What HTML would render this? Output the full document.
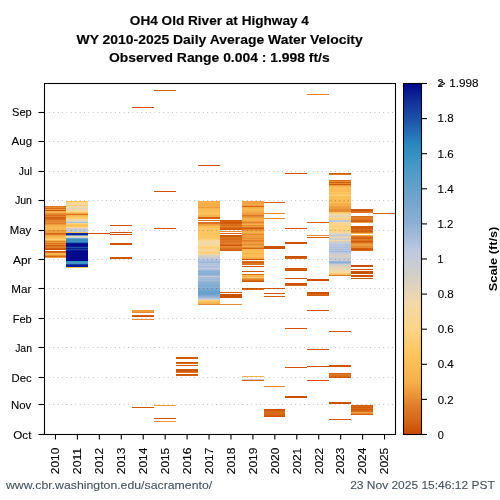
<!DOCTYPE html><html><head><meta charset="utf-8"><style>html,body{margin:0;padding:0;background:#fff;overflow:hidden}svg{display:block}text{font-family:"Liberation Sans",sans-serif}</style></head><body>
<svg width="500" height="500" viewBox="0 0 500 500">
<defs><linearGradient id="cb" x1="0" y1="1" x2="0" y2="0">
<stop offset="0.0000" stop-color="#c84a02"/>
<stop offset="0.0400" stop-color="#d66618"/>
<stop offset="0.0800" stop-color="#e07c28"/>
<stop offset="0.1500" stop-color="#f6b04a"/>
<stop offset="0.2250" stop-color="#fdc45c"/>
<stop offset="0.3000" stop-color="#fdd488"/>
<stop offset="0.3750" stop-color="#f2d9aa"/>
<stop offset="0.4500" stop-color="#d4cfc6"/>
<stop offset="0.5250" stop-color="#bcc8e0"/>
<stop offset="0.6000" stop-color="#8cb0d4"/>
<stop offset="0.6750" stop-color="#70a4cc"/>
<stop offset="0.7500" stop-color="#4e9ac8"/>
<stop offset="0.8250" stop-color="#2a8abe"/>
<stop offset="0.9000" stop-color="#1e50a8"/>
<stop offset="0.9500" stop-color="#10309a"/>
<stop offset="1.0000" stop-color="#00088c"/>
</linearGradient></defs>
<rect width="500" height="500" fill="#fff"/>
<g opacity="0.999">
<g font-weight="bold" fill="#000">
<text x="129.85" y="25.2" font-size="12.8" stroke="#000" stroke-width="0.15" textLength="179.01" lengthAdjust="spacingAndGlyphs">OH4 Old River at Highway 4</text>
<text x="76.55" y="43.8" font-size="12.8" stroke="#000" stroke-width="0.15" textLength="286.16" lengthAdjust="spacingAndGlyphs">WY 2010-2025 Daily Average Water Velocity</text>
<text x="108.97" y="62.2" font-size="12.8" stroke="#000" stroke-width="0.15" textLength="220.66" lengthAdjust="spacingAndGlyphs">Observed Range 0.004 : 1.998 ft/s</text>
</g>
<g shape-rendering="crispEdges">
<rect x="44.5" y="206" width="21.5" height="1" fill="#de7724"/>
<rect x="44.5" y="207" width="21.5" height="1" fill="#e68b32"/>
<rect x="44.5" y="208" width="21.5" height="1" fill="#d66816"/>
<rect x="44.5" y="209" width="21.5" height="1" fill="#ee9d3e"/>
<rect x="44.5" y="210" width="21.5" height="1" fill="#cc5404"/>
<rect x="44.5" y="211" width="21.5" height="1" fill="#f3a945"/>
<rect x="44.5" y="212" width="21.5" height="1" fill="#f8b750"/>
<rect x="44.5" y="213" width="21.5" height="1" fill="#e68b32"/>
<rect x="44.5" y="214" width="21.5" height="1" fill="#e68b32"/>
<rect x="44.5" y="215" width="21.5" height="1" fill="#d66816"/>
<rect x="44.5" y="216" width="21.5" height="1" fill="#e3832d"/>
<rect x="44.5" y="217" width="21.5" height="1" fill="#d15e0d"/>
<rect x="44.5" y="218" width="21.5" height="1" fill="#d66816"/>
<rect x="44.5" y="219" width="21.5" height="1" fill="#d86d1a"/>
<rect x="44.5" y="220" width="21.5" height="1" fill="#e68b32"/>
<rect x="44.5" y="221" width="21.5" height="1" fill="#e3832d"/>
<rect x="44.5" y="222" width="21.5" height="1" fill="#e68b32"/>
<rect x="44.5" y="223" width="21.5" height="1" fill="#e2802a"/>
<rect x="44.5" y="224" width="21.5" height="1" fill="#ee9d3e"/>
<rect x="44.5" y="225" width="21.5" height="1" fill="#f6b04a"/>
<rect x="44.5" y="226" width="21.5" height="3" fill="#f9b952"/>
<rect x="44.5" y="229" width="21.5" height="1" fill="#f8b750"/>
<rect x="44.5" y="230" width="21.5" height="1" fill="#ee9d3e"/>
<rect x="44.5" y="231" width="21.5" height="1" fill="#ee9d3e"/>
<rect x="44.5" y="232" width="21.5" height="1" fill="#ee9d3e"/>
<rect x="44.5" y="233" width="21.5" height="1" fill="#d66816"/>
<rect x="44.5" y="234" width="21.5" height="1" fill="#de7724"/>
<rect x="44.5" y="235" width="21.5" height="1" fill="#f3a945"/>
<rect x="44.5" y="236" width="21.5" height="1" fill="#f7b44e"/>
<rect x="44.5" y="237" width="21.5" height="1" fill="#fbbd56"/>
<rect x="44.5" y="238" width="21.5" height="1" fill="#fcc058"/>
<rect x="44.5" y="239" width="21.5" height="1" fill="#fdcf79"/>
<rect x="44.5" y="240" width="21.5" height="1" fill="#f7b44e"/>
<rect x="44.5" y="241" width="21.5" height="1" fill="#e2802a"/>
<rect x="44.5" y="242" width="21.5" height="1" fill="#ee9d3e"/>
<rect x="44.5" y="243" width="21.5" height="1" fill="#d86d1a"/>
<rect x="44.5" y="244" width="21.5" height="1" fill="#e68b32"/>
<rect x="44.5" y="245" width="21.5" height="1" fill="#d15e0d"/>
<rect x="44.5" y="246" width="21.5" height="1" fill="#de7724"/>
<rect x="44.5" y="247" width="21.5" height="1" fill="#e2802a"/>
<rect x="44.5" y="248" width="21.5" height="1" fill="#d15e0d"/>
<rect x="44.5" y="249" width="21.5" height="1" fill="#cb5204"/>
<rect x="44.5" y="251" width="21.5" height="1" fill="#ce5908"/>
<rect x="44.5" y="252" width="21.5" height="1" fill="#db721f"/>
<rect x="44.5" y="253" width="21.5" height="1" fill="#f6b04a"/>
<rect x="44.5" y="254" width="21.5" height="1" fill="#fbbd56"/>
<rect x="44.5" y="255" width="21.5" height="1" fill="#e68b32"/>
<rect x="44.5" y="256" width="21.5" height="1" fill="#d66816"/>
<rect x="44.5" y="257" width="21.5" height="1" fill="#ee9d3e"/>
<rect x="66" y="201" width="22" height="1" fill="#fdc45c"/>
<rect x="66" y="202" width="22" height="1" fill="#fdd488"/>
<rect x="66" y="203" width="22" height="1" fill="#f6d79f"/>
<rect x="66" y="204" width="22" height="1" fill="#f4d8a3"/>
<rect x="66" y="205" width="22" height="1" fill="#fdcf79"/>
<rect x="66" y="206" width="22" height="1" fill="#ecd7b0"/>
<rect x="66" y="207" width="22" height="1" fill="#f2d9aa"/>
<rect x="66" y="208" width="22" height="1" fill="#e4d4b7"/>
<rect x="66" y="209" width="22" height="1" fill="#f2d9aa"/>
<rect x="66" y="210" width="22" height="1" fill="#f4d8a3"/>
<rect x="66" y="211" width="22" height="1" fill="#fdd488"/>
<rect x="66" y="212" width="22" height="1" fill="#fdc662"/>
<rect x="66" y="213" width="22" height="1" fill="#f3a945"/>
<rect x="66" y="214" width="22" height="1" fill="#d86d1a"/>
<rect x="66" y="215" width="22" height="1" fill="#f8b750"/>
<rect x="66" y="216" width="22" height="1" fill="#fcc058"/>
<rect x="66" y="217" width="22" height="1" fill="#fdc662"/>
<rect x="66" y="218" width="22" height="1" fill="#fdcf79"/>
<rect x="66" y="219" width="22" height="1" fill="#f4d8a3"/>
<rect x="66" y="220" width="22" height="1" fill="#e8d6b3"/>
<rect x="66" y="221" width="22" height="1" fill="#dad1c0"/>
<rect x="66" y="222" width="22" height="1" fill="#acc0dc"/>
<rect x="66" y="223" width="22" height="1" fill="#fdd488"/>
<rect x="66" y="224" width="22" height="1" fill="#fdc662"/>
<rect x="66" y="225" width="22" height="1" fill="#fcc058"/>
<rect x="66" y="226" width="22" height="1" fill="#fdc662"/>
<rect x="66" y="227" width="22" height="1" fill="#f9d693"/>
<rect x="66" y="228" width="22" height="1" fill="#d4cfc6"/>
<rect x="66" y="229" width="22" height="1" fill="#c4cad7"/>
<rect x="66" y="230" width="22" height="1" fill="#cccdcf"/>
<rect x="66" y="231" width="22" height="1" fill="#bcc8e0"/>
<rect x="66" y="232" width="22" height="1" fill="#fcc058"/>
<rect x="66" y="233" width="22" height="1" fill="#10309a"/>
<rect x="66" y="234" width="22" height="1" fill="#081c93"/>
<rect x="66" y="235" width="22" height="1" fill="#69a2cb"/>
<rect x="66" y="236" width="22" height="1" fill="#ecd7b0"/>
<rect x="66" y="237" width="22" height="1" fill="#dad1c0"/>
<rect x="66" y="238" width="22" height="1" fill="#65a1cb"/>
<rect x="66" y="239" width="22" height="1" fill="#3b91c3"/>
<rect x="66" y="240" width="22" height="1" fill="#368fc1"/>
<rect x="66" y="241" width="22" height="1" fill="#3b91c3"/>
<rect x="66" y="242" width="22" height="1" fill="#246fb4"/>
<rect x="66" y="243" width="22" height="1" fill="#081c93"/>
<rect x="66" y="244" width="22" height="2" fill="#00088c"/>
<rect x="66" y="246" width="22" height="1" fill="#081c93"/>
<rect x="66" y="247" width="22" height="1" fill="#1e50a8"/>
<rect x="66" y="248" width="22" height="1" fill="#081c93"/>
<rect x="66" y="249" width="22" height="1" fill="#1740a1"/>
<rect x="66" y="250" width="22" height="1" fill="#081c93"/>
<rect x="66" y="251" width="22" height="10" fill="#00088c"/>
<rect x="66" y="261" width="22" height="1" fill="#368fc1"/>
<rect x="66" y="262" width="22" height="1" fill="#4998c7"/>
<rect x="66" y="263" width="22" height="1" fill="#3b91c3"/>
<rect x="66" y="264" width="22" height="1" fill="#1740a1"/>
<rect x="66" y="265" width="22" height="2" fill="#081c93"/>
<rect x="66" y="267" width="22" height="1" fill="#fcc058"/>
<rect x="88" y="233" width="22" height="1" fill="#cc5404"/>
<rect x="110" y="225" width="22" height="1" fill="#cc5404"/>
<rect x="110" y="232" width="22" height="1" fill="#cc5404"/>
<rect x="110" y="234" width="22" height="1" fill="#cc5404"/>
<rect x="110" y="243" width="22" height="2" fill="#cc5404"/>
<rect x="110" y="257" width="22" height="2" fill="#cc5404"/>
<rect x="132" y="107" width="22" height="1" fill="#cc5404"/>
<rect x="132" y="310" width="22" height="1" fill="#ee9d3e"/>
<rect x="132" y="311" width="22" height="1" fill="#ee9d3e"/>
<rect x="132" y="312" width="22" height="1" fill="#e68b32"/>
<rect x="132" y="315" width="22" height="1" fill="#d15e0d"/>
<rect x="132" y="316" width="22" height="1" fill="#cc5404"/>
<rect x="132" y="319" width="22" height="1" fill="#e68b32"/>
<rect x="132" y="407" width="22" height="1" fill="#ce5908"/>
<rect x="154" y="90" width="22" height="1" fill="#d05d0c"/>
<rect x="154" y="191" width="22" height="1" fill="#cc5404"/>
<rect x="154" y="228" width="22" height="1" fill="#cc5404"/>
<rect x="154" y="405" width="22" height="1" fill="#ed9a3b"/>
<rect x="154" y="418" width="22" height="1" fill="#cc5404"/>
<rect x="154" y="421" width="22" height="1" fill="#e99237"/>
<rect x="176" y="357" width="22" height="1" fill="#cc5404"/>
<rect x="176" y="358" width="22" height="1" fill="#d15e0d"/>
<rect x="176" y="362" width="22" height="1" fill="#cc5404"/>
<rect x="176" y="363" width="22" height="1" fill="#d66816"/>
<rect x="176" y="365" width="22" height="1" fill="#ce5908"/>
<rect x="176" y="369" width="22" height="1" fill="#ce5908"/>
<rect x="176" y="370" width="22" height="1" fill="#cc5404"/>
<rect x="176" y="371" width="22" height="1" fill="#d15e0d"/>
<rect x="176" y="372" width="22" height="1" fill="#de7724"/>
<rect x="176" y="374" width="22" height="1" fill="#ce5908"/>
<rect x="176" y="375" width="22" height="1" fill="#d15e0d"/>
<rect x="198" y="165" width="22" height="1" fill="#cc5404"/>
<rect x="198" y="201" width="22" height="1" fill="#f3a945"/>
<rect x="198" y="202" width="22" height="1" fill="#f7b44e"/>
<rect x="198" y="203" width="22" height="1" fill="#f6b04a"/>
<rect x="198" y="204" width="22" height="1" fill="#f4ac48"/>
<rect x="198" y="205" width="22" height="1" fill="#f4ac48"/>
<rect x="198" y="206" width="22" height="1" fill="#f6b04a"/>
<rect x="198" y="207" width="22" height="1" fill="#ee9d3e"/>
<rect x="198" y="208" width="22" height="1" fill="#f7b44e"/>
<rect x="198" y="209" width="22" height="1" fill="#fbbd56"/>
<rect x="198" y="210" width="22" height="1" fill="#fbbd56"/>
<rect x="198" y="211" width="22" height="1" fill="#fbbd56"/>
<rect x="198" y="212" width="22" height="1" fill="#fcc15a"/>
<rect x="198" y="213" width="22" height="1" fill="#fdc662"/>
<rect x="198" y="214" width="22" height="1" fill="#fcc15a"/>
<rect x="198" y="215" width="22" height="1" fill="#f7b44e"/>
<rect x="198" y="216" width="22" height="1" fill="#f7b44e"/>
<rect x="198" y="217" width="22" height="1" fill="#d15e0d"/>
<rect x="198" y="218" width="22" height="1" fill="#d66816"/>
<rect x="198" y="220" width="22" height="1" fill="#de7724"/>
<rect x="198" y="222" width="22" height="1" fill="#db721f"/>
<rect x="198" y="223" width="22" height="1" fill="#db721f"/>
<rect x="198" y="224" width="22" height="1" fill="#ee9d3e"/>
<rect x="198" y="225" width="22" height="1" fill="#f3a945"/>
<rect x="198" y="226" width="22" height="1" fill="#fbbd56"/>
<rect x="198" y="227" width="22" height="1" fill="#fcc15a"/>
<rect x="198" y="228" width="22" height="5" fill="#fdc662"/>
<rect x="198" y="233" width="22" height="1" fill="#fcc15a"/>
<rect x="198" y="234" width="22" height="4" fill="#fdc662"/>
<rect x="198" y="238" width="22" height="1" fill="#fdc96b"/>
<rect x="198" y="239" width="22" height="1" fill="#fdcf79"/>
<rect x="198" y="240" width="22" height="1" fill="#f9d693"/>
<rect x="198" y="241" width="22" height="1" fill="#f6d79f"/>
<rect x="198" y="242" width="22" height="1" fill="#f2d9aa"/>
<rect x="198" y="243" width="22" height="1" fill="#f2d9aa"/>
<rect x="198" y="244" width="22" height="1" fill="#f4d8a3"/>
<rect x="198" y="245" width="22" height="1" fill="#f7d79a"/>
<rect x="198" y="246" width="22" height="1" fill="#fdd488"/>
<rect x="198" y="247" width="22" height="1" fill="#fdcf79"/>
<rect x="198" y="248" width="22" height="1" fill="#fdd488"/>
<rect x="198" y="249" width="22" height="1" fill="#fbd58f"/>
<rect x="198" y="250" width="22" height="1" fill="#f7d79a"/>
<rect x="198" y="251" width="22" height="1" fill="#fdd488"/>
<rect x="198" y="252" width="22" height="1" fill="#fdcf79"/>
<rect x="198" y="253" width="22" height="1" fill="#fdd488"/>
<rect x="198" y="254" width="22" height="1" fill="#f2d9aa"/>
<rect x="198" y="255" width="22" height="1" fill="#dad1c0"/>
<rect x="198" y="256" width="22" height="1" fill="#d4cfc6"/>
<rect x="198" y="257" width="22" height="1" fill="#cccdcf"/>
<rect x="198" y="258" width="22" height="1" fill="#c4cad7"/>
<rect x="198" y="259" width="22" height="1" fill="#bcc8e0"/>
<rect x="198" y="260" width="22" height="1" fill="#b2c3de"/>
<rect x="198" y="261" width="22" height="1" fill="#a6bdda"/>
<rect x="198" y="262" width="22" height="1" fill="#9cb8d8"/>
<rect x="198" y="263" width="22" height="1" fill="#b2c3de"/>
<rect x="198" y="264" width="22" height="1" fill="#b2c3de"/>
<rect x="198" y="265" width="22" height="1" fill="#bcc8e0"/>
<rect x="198" y="266" width="22" height="1" fill="#a6bdda"/>
<rect x="198" y="267" width="22" height="1" fill="#b2c3de"/>
<rect x="198" y="268" width="22" height="1" fill="#bcc8e0"/>
<rect x="198" y="269" width="22" height="1" fill="#b2c3de"/>
<rect x="198" y="270" width="22" height="1" fill="#9cb8d8"/>
<rect x="198" y="271" width="22" height="1" fill="#8cb0d4"/>
<rect x="198" y="272" width="22" height="1" fill="#8cb0d4"/>
<rect x="198" y="273" width="22" height="1" fill="#88aed3"/>
<rect x="198" y="274" width="22" height="1" fill="#8cb0d4"/>
<rect x="198" y="275" width="22" height="1" fill="#9cb8d8"/>
<rect x="198" y="276" width="22" height="1" fill="#c4cad7"/>
<rect x="198" y="277" width="22" height="1" fill="#a6bdda"/>
<rect x="198" y="278" width="22" height="1" fill="#a6bdda"/>
<rect x="198" y="279" width="22" height="1" fill="#9cb8d8"/>
<rect x="198" y="280" width="22" height="1" fill="#a6bdda"/>
<rect x="198" y="281" width="22" height="1" fill="#96b5d6"/>
<rect x="198" y="282" width="22" height="1" fill="#8cb0d4"/>
<rect x="198" y="283" width="22" height="1" fill="#88aed3"/>
<rect x="198" y="284" width="22" height="1" fill="#88aed3"/>
<rect x="198" y="285" width="22" height="1" fill="#7faad0"/>
<rect x="198" y="286" width="22" height="1" fill="#88aed3"/>
<rect x="198" y="287" width="22" height="1" fill="#8cb0d4"/>
<rect x="198" y="288" width="22" height="1" fill="#7faad0"/>
<rect x="198" y="289" width="22" height="1" fill="#79a8cf"/>
<rect x="198" y="290" width="22" height="1" fill="#70a4cc"/>
<rect x="198" y="291" width="22" height="1" fill="#6ba3cb"/>
<rect x="198" y="292" width="22" height="1" fill="#65a1cb"/>
<rect x="198" y="293" width="22" height="1" fill="#609fca"/>
<rect x="198" y="294" width="22" height="1" fill="#70a4cc"/>
<rect x="198" y="295" width="22" height="1" fill="#7faad0"/>
<rect x="198" y="296" width="22" height="1" fill="#8cb0d4"/>
<rect x="198" y="297" width="22" height="1" fill="#9cb8d8"/>
<rect x="198" y="298" width="22" height="1" fill="#b2c3de"/>
<rect x="198" y="299" width="22" height="1" fill="#d4cfc6"/>
<rect x="198" y="300" width="22" height="1" fill="#fdcf79"/>
<rect x="198" y="301" width="22" height="1" fill="#fcc15a"/>
<rect x="198" y="302" width="22" height="1" fill="#fbbd56"/>
<rect x="198" y="303" width="22" height="1" fill="#f7b44e"/>
<rect x="198" y="304" width="22" height="1" fill="#e68b32"/>
<rect x="220" y="220" width="22" height="1" fill="#d15e0d"/>
<rect x="220" y="221" width="22" height="1" fill="#d66816"/>
<rect x="220" y="222" width="22" height="1" fill="#cc5404"/>
<rect x="220" y="223" width="22" height="1" fill="#d15e0d"/>
<rect x="220" y="224" width="22" height="1" fill="#db721f"/>
<rect x="220" y="225" width="22" height="1" fill="#d86d1a"/>
<rect x="220" y="226" width="22" height="1" fill="#e2802a"/>
<rect x="220" y="227" width="22" height="1" fill="#d86d1a"/>
<rect x="220" y="228" width="22" height="1" fill="#d15e0d"/>
<rect x="220" y="229" width="22" height="1" fill="#ce5908"/>
<rect x="220" y="231" width="22" height="1" fill="#e68b32"/>
<rect x="220" y="233" width="22" height="1" fill="#d66816"/>
<rect x="220" y="235" width="22" height="1" fill="#cc5404"/>
<rect x="220" y="236" width="22" height="1" fill="#d15e0d"/>
<rect x="220" y="237" width="22" height="1" fill="#d86d1a"/>
<rect x="220" y="238" width="22" height="1" fill="#db721f"/>
<rect x="220" y="239" width="22" height="1" fill="#d66816"/>
<rect x="220" y="240" width="22" height="1" fill="#de7724"/>
<rect x="220" y="241" width="22" height="1" fill="#db721f"/>
<rect x="220" y="242" width="22" height="1" fill="#de7724"/>
<rect x="220" y="243" width="22" height="1" fill="#e2802a"/>
<rect x="220" y="244" width="22" height="1" fill="#d86d1a"/>
<rect x="220" y="245" width="22" height="1" fill="#cc5404"/>
<rect x="220" y="246" width="22" height="1" fill="#e68b32"/>
<rect x="220" y="247" width="22" height="1" fill="#e2802a"/>
<rect x="220" y="248" width="22" height="1" fill="#db721f"/>
<rect x="220" y="249" width="22" height="1" fill="#d66816"/>
<rect x="220" y="250" width="22" height="1" fill="#d15e0d"/>
<rect x="220" y="292" width="22" height="1" fill="#d05d0c"/>
<rect x="220" y="294" width="22" height="4" fill="#ca5203"/>
<rect x="220" y="304" width="22" height="1" fill="#e68b32"/>
<rect x="242" y="201" width="22" height="1" fill="#ee9d3e"/>
<rect x="242" y="202" width="22" height="1" fill="#f3a945"/>
<rect x="242" y="203" width="22" height="1" fill="#ee9d3e"/>
<rect x="242" y="204" width="22" height="1" fill="#f4ac48"/>
<rect x="242" y="205" width="22" height="1" fill="#ee9d3e"/>
<rect x="242" y="206" width="22" height="1" fill="#d66816"/>
<rect x="242" y="207" width="22" height="1" fill="#f3a945"/>
<rect x="242" y="208" width="22" height="1" fill="#f7b44e"/>
<rect x="242" y="209" width="22" height="1" fill="#fbbd56"/>
<rect x="242" y="210" width="22" height="1" fill="#f7b44e"/>
<rect x="242" y="211" width="22" height="1" fill="#f6b04a"/>
<rect x="242" y="212" width="22" height="1" fill="#f4ac48"/>
<rect x="242" y="213" width="22" height="1" fill="#ee9d3e"/>
<rect x="242" y="214" width="22" height="1" fill="#ee9d3e"/>
<rect x="242" y="215" width="22" height="1" fill="#de7724"/>
<rect x="242" y="216" width="22" height="1" fill="#e68b32"/>
<rect x="242" y="217" width="22" height="1" fill="#ee9d3e"/>
<rect x="242" y="218" width="22" height="1" fill="#f3a945"/>
<rect x="242" y="219" width="22" height="1" fill="#f6b04a"/>
<rect x="242" y="220" width="22" height="1" fill="#f4ac48"/>
<rect x="242" y="221" width="22" height="1" fill="#ee9d3e"/>
<rect x="242" y="222" width="22" height="1" fill="#e2802a"/>
<rect x="242" y="223" width="22" height="1" fill="#ee9d3e"/>
<rect x="242" y="224" width="22" height="1" fill="#f6b04a"/>
<rect x="242" y="225" width="22" height="1" fill="#e68b32"/>
<rect x="242" y="226" width="22" height="1" fill="#ee9d3e"/>
<rect x="242" y="227" width="22" height="1" fill="#db721f"/>
<rect x="242" y="228" width="22" height="1" fill="#d15e0d"/>
<rect x="242" y="229" width="22" height="1" fill="#e2802a"/>
<rect x="242" y="230" width="22" height="1" fill="#ee9d3e"/>
<rect x="242" y="231" width="22" height="1" fill="#f3a945"/>
<rect x="242" y="232" width="22" height="1" fill="#f7b44e"/>
<rect x="242" y="233" width="22" height="1" fill="#ee9d3e"/>
<rect x="242" y="234" width="22" height="1" fill="#e68b32"/>
<rect x="242" y="235" width="22" height="3" fill="#ee9d3e"/>
<rect x="242" y="238" width="22" height="1" fill="#e68b32"/>
<rect x="242" y="239" width="22" height="1" fill="#ee9d3e"/>
<rect x="242" y="240" width="22" height="1" fill="#e2802a"/>
<rect x="242" y="241" width="22" height="1" fill="#e68b32"/>
<rect x="242" y="242" width="22" height="1" fill="#ee9d3e"/>
<rect x="242" y="243" width="22" height="1" fill="#ee9d3e"/>
<rect x="242" y="244" width="22" height="1" fill="#e68b32"/>
<rect x="242" y="245" width="22" height="1" fill="#ee9d3e"/>
<rect x="242" y="246" width="22" height="1" fill="#f3a945"/>
<rect x="242" y="247" width="22" height="1" fill="#e68b32"/>
<rect x="242" y="248" width="22" height="1" fill="#d66816"/>
<rect x="242" y="249" width="22" height="1" fill="#f7b44e"/>
<rect x="242" y="250" width="22" height="3" fill="#fbbd56"/>
<rect x="242" y="253" width="22" height="1" fill="#f7b44e"/>
<rect x="242" y="254" width="22" height="3" fill="#fbbd56"/>
<rect x="242" y="257" width="22" height="1" fill="#f7b44e"/>
<rect x="242" y="258" width="22" height="1" fill="#f3a945"/>
<rect x="242" y="259" width="22" height="1" fill="#ce5908"/>
<rect x="242" y="261" width="22" height="1" fill="#db721f"/>
<rect x="242" y="262" width="22" height="1" fill="#d15e0d"/>
<rect x="242" y="263" width="22" height="1" fill="#de7724"/>
<rect x="242" y="264" width="22" height="1" fill="#db721f"/>
<rect x="242" y="266" width="22" height="1" fill="#cc5404"/>
<rect x="242" y="271" width="22" height="1" fill="#ce5908"/>
<rect x="242" y="274" width="22" height="1" fill="#d86d1a"/>
<rect x="242" y="275" width="22" height="1" fill="#fbbd56"/>
<rect x="242" y="276" width="22" height="1" fill="#f7b44e"/>
<rect x="242" y="277" width="22" height="1" fill="#fdc96b"/>
<rect x="242" y="278" width="22" height="1" fill="#ee9d3e"/>
<rect x="242" y="279" width="22" height="1" fill="#e2802a"/>
<rect x="242" y="280" width="22" height="1" fill="#d86d1a"/>
<rect x="242" y="281" width="22" height="1" fill="#cc5404"/>
<rect x="242" y="288" width="22" height="1" fill="#d15e0d"/>
<rect x="242" y="289" width="22" height="1" fill="#d66816"/>
<rect x="242" y="376" width="22" height="1" fill="#f6b04a"/>
<rect x="242" y="379" width="22" height="1" fill="#c4cad7"/>
<rect x="242" y="380" width="22" height="1" fill="#d66816"/>
<rect x="264" y="202" width="21" height="1" fill="#d05d0c"/>
<rect x="264" y="213" width="21" height="1" fill="#e68b32"/>
<rect x="264" y="218" width="21" height="1" fill="#e68b32"/>
<rect x="264" y="246" width="21" height="3" fill="#ca5203"/>
<rect x="264" y="288" width="21" height="1" fill="#d05d0c"/>
<rect x="264" y="293" width="21" height="1" fill="#d05d0c"/>
<rect x="264" y="296" width="21" height="1" fill="#d05d0c"/>
<rect x="264" y="386" width="21" height="1" fill="#e2802a"/>
<rect x="264" y="409" width="21" height="1" fill="#cc5404"/>
<rect x="264" y="410" width="21" height="1" fill="#ce5908"/>
<rect x="264" y="411" width="21" height="1" fill="#d66816"/>
<rect x="264" y="412" width="21" height="1" fill="#d86d1a"/>
<rect x="264" y="413" width="21" height="1" fill="#d66816"/>
<rect x="264" y="414" width="21" height="1" fill="#d86d1a"/>
<rect x="264" y="415" width="21" height="1" fill="#d15e0d"/>
<rect x="264" y="416" width="21" height="1" fill="#cc5404"/>
<rect x="285" y="173" width="22" height="1" fill="#cc5404"/>
<rect x="285" y="228" width="22" height="1" fill="#cc5404"/>
<rect x="285" y="242" width="22" height="2" fill="#ca5203"/>
<rect x="285" y="256" width="22" height="1" fill="#ca5103"/>
<rect x="285" y="257" width="22" height="1" fill="#cb5204"/>
<rect x="285" y="258" width="22" height="1" fill="#d66816"/>
<rect x="285" y="268" width="22" height="1" fill="#ca5203"/>
<rect x="285" y="269" width="22" height="1" fill="#d15e0d"/>
<rect x="285" y="270" width="22" height="1" fill="#ca5203"/>
<rect x="285" y="278" width="22" height="1" fill="#cc5404"/>
<rect x="285" y="283" width="22" height="1" fill="#cb5204"/>
<rect x="285" y="284" width="22" height="1" fill="#cc5404"/>
<rect x="285" y="285" width="22" height="1" fill="#d66816"/>
<rect x="285" y="328" width="22" height="1" fill="#cc5404"/>
<rect x="285" y="367" width="22" height="1" fill="#cc5404"/>
<rect x="285" y="396" width="22" height="2" fill="#c95003"/>
<rect x="307" y="94" width="22" height="1" fill="#e3832d"/>
<rect x="307" y="222" width="22" height="1" fill="#d05d0c"/>
<rect x="307" y="235" width="22" height="1" fill="#e68b32"/>
<rect x="307" y="237" width="22" height="1" fill="#d05d0c"/>
<rect x="307" y="279" width="22" height="2" fill="#c95003"/>
<rect x="307" y="292" width="22" height="1" fill="#ca5103"/>
<rect x="307" y="293" width="22" height="1" fill="#cc5404"/>
<rect x="307" y="294" width="22" height="1" fill="#d66816"/>
<rect x="307" y="295" width="22" height="1" fill="#d15e0d"/>
<rect x="307" y="310" width="22" height="1" fill="#cc5404"/>
<rect x="307" y="349" width="22" height="1" fill="#cc5404"/>
<rect x="307" y="366" width="22" height="1" fill="#cc5404"/>
<rect x="307" y="380" width="22" height="1" fill="#cc5404"/>
<rect x="329" y="173" width="22" height="1" fill="#d15e0d"/>
<rect x="329" y="174" width="22" height="1" fill="#de7724"/>
<rect x="329" y="180" width="22" height="1" fill="#d66816"/>
<rect x="329" y="181" width="22" height="1" fill="#e68b32"/>
<rect x="329" y="182" width="22" height="1" fill="#d15e0d"/>
<rect x="329" y="183" width="22" height="1" fill="#e68b32"/>
<rect x="329" y="184" width="22" height="1" fill="#ce5908"/>
<rect x="329" y="185" width="22" height="1" fill="#ee9d3e"/>
<rect x="329" y="186" width="22" height="1" fill="#f7b44e"/>
<rect x="329" y="187" width="22" height="1" fill="#fbbd56"/>
<rect x="329" y="188" width="22" height="1" fill="#fbbd56"/>
<rect x="329" y="189" width="22" height="1" fill="#fcc15a"/>
<rect x="329" y="190" width="22" height="1" fill="#fbbd56"/>
<rect x="329" y="191" width="22" height="1" fill="#fbbd56"/>
<rect x="329" y="192" width="22" height="1" fill="#fdc662"/>
<rect x="329" y="193" width="22" height="1" fill="#fcc15a"/>
<rect x="329" y="194" width="22" height="1" fill="#fdc96b"/>
<rect x="329" y="195" width="22" height="1" fill="#fdcf79"/>
<rect x="329" y="196" width="22" height="1" fill="#fcc15a"/>
<rect x="329" y="197" width="22" height="1" fill="#fbbd56"/>
<rect x="329" y="198" width="22" height="1" fill="#fcc15a"/>
<rect x="329" y="199" width="22" height="1" fill="#fbbd56"/>
<rect x="329" y="200" width="22" height="1" fill="#fbbd56"/>
<rect x="329" y="201" width="22" height="1" fill="#f7b44e"/>
<rect x="329" y="202" width="22" height="1" fill="#fbbd56"/>
<rect x="329" y="203" width="22" height="1" fill="#f7b44e"/>
<rect x="329" y="204" width="22" height="1" fill="#f4ac48"/>
<rect x="329" y="205" width="22" height="1" fill="#f7b44e"/>
<rect x="329" y="206" width="22" height="3" fill="#ee9d3e"/>
<rect x="329" y="209" width="22" height="3" fill="#e68b32"/>
<rect x="329" y="212" width="22" height="1" fill="#fdc662"/>
<rect x="329" y="213" width="22" height="1" fill="#fdcf79"/>
<rect x="329" y="214" width="22" height="1" fill="#f2d9aa"/>
<rect x="329" y="215" width="22" height="1" fill="#e8d6b3"/>
<rect x="329" y="216" width="22" height="1" fill="#e4d4b7"/>
<rect x="329" y="217" width="22" height="1" fill="#f4d8a3"/>
<rect x="329" y="218" width="22" height="1" fill="#fdd488"/>
<rect x="329" y="219" width="22" height="1" fill="#fdcf79"/>
<rect x="329" y="220" width="22" height="1" fill="#c4cad7"/>
<rect x="329" y="221" width="22" height="1" fill="#bcc8e0"/>
<rect x="329" y="222" width="22" height="1" fill="#f2d9aa"/>
<rect x="329" y="223" width="22" height="3" fill="#fdd488"/>
<rect x="329" y="226" width="22" height="1" fill="#fdcf79"/>
<rect x="329" y="227" width="22" height="1" fill="#fdd488"/>
<rect x="329" y="228" width="22" height="1" fill="#fdd488"/>
<rect x="329" y="229" width="22" height="1" fill="#fdcf79"/>
<rect x="329" y="230" width="22" height="1" fill="#fdd488"/>
<rect x="329" y="231" width="22" height="1" fill="#fdd488"/>
<rect x="329" y="232" width="22" height="1" fill="#f4d8a3"/>
<rect x="329" y="233" width="22" height="1" fill="#e8d6b3"/>
<rect x="329" y="234" width="22" height="1" fill="#cccdcf"/>
<rect x="329" y="235" width="22" height="1" fill="#c4cad7"/>
<rect x="329" y="236" width="22" height="1" fill="#dad1c0"/>
<rect x="329" y="237" width="22" height="1" fill="#f2d9aa"/>
<rect x="329" y="238" width="22" height="1" fill="#d4cfc6"/>
<rect x="329" y="239" width="22" height="1" fill="#cccdcf"/>
<rect x="329" y="240" width="22" height="1" fill="#f6d79f"/>
<rect x="329" y="241" width="22" height="1" fill="#d4cfc6"/>
<rect x="329" y="242" width="22" height="1" fill="#cccdcf"/>
<rect x="329" y="243" width="22" height="1" fill="#c4cad7"/>
<rect x="329" y="244" width="22" height="1" fill="#bcc8e0"/>
<rect x="329" y="245" width="22" height="1" fill="#b2c3de"/>
<rect x="329" y="246" width="22" height="1" fill="#bcc8e0"/>
<rect x="329" y="247" width="22" height="1" fill="#acc0dc"/>
<rect x="329" y="248" width="22" height="1" fill="#bcc8e0"/>
<rect x="329" y="249" width="22" height="1" fill="#a6bdda"/>
<rect x="329" y="250" width="22" height="1" fill="#bcc8e0"/>
<rect x="329" y="251" width="22" height="1" fill="#9cb8d8"/>
<rect x="329" y="252" width="22" height="1" fill="#bcc8e0"/>
<rect x="329" y="253" width="22" height="1" fill="#c4cad7"/>
<rect x="329" y="254" width="22" height="1" fill="#cccdcf"/>
<rect x="329" y="255" width="22" height="1" fill="#d4cfc6"/>
<rect x="329" y="256" width="22" height="1" fill="#d8d0c2"/>
<rect x="329" y="257" width="22" height="1" fill="#cccdcf"/>
<rect x="329" y="258" width="22" height="1" fill="#c4cad7"/>
<rect x="329" y="259" width="22" height="1" fill="#cccdcf"/>
<rect x="329" y="260" width="22" height="1" fill="#c4cad7"/>
<rect x="329" y="261" width="22" height="1" fill="#9cb8d8"/>
<rect x="329" y="262" width="22" height="1" fill="#88aed3"/>
<rect x="329" y="263" width="22" height="1" fill="#a6bdda"/>
<rect x="329" y="264" width="22" height="1" fill="#cccdcf"/>
<rect x="329" y="265" width="22" height="1" fill="#d4cfc6"/>
<rect x="329" y="266" width="22" height="1" fill="#dad1c0"/>
<rect x="329" y="267" width="22" height="1" fill="#e4d4b7"/>
<rect x="329" y="268" width="22" height="1" fill="#e8d6b3"/>
<rect x="329" y="269" width="22" height="1" fill="#e8d6b3"/>
<rect x="329" y="270" width="22" height="1" fill="#ecd7b0"/>
<rect x="329" y="271" width="22" height="1" fill="#f2d9aa"/>
<rect x="329" y="272" width="22" height="1" fill="#f6d79f"/>
<rect x="329" y="273" width="22" height="1" fill="#fdcf79"/>
<rect x="329" y="274" width="22" height="1" fill="#fcc15a"/>
<rect x="329" y="275" width="22" height="1" fill="#de7724"/>
<rect x="329" y="331" width="22" height="1" fill="#cc5404"/>
<rect x="329" y="365" width="22" height="1" fill="#ce5908"/>
<rect x="329" y="366" width="22" height="1" fill="#cc5404"/>
<rect x="329" y="373" width="22" height="1" fill="#d66816"/>
<rect x="329" y="374" width="22" height="1" fill="#de7724"/>
<rect x="329" y="375" width="22" height="1" fill="#db721f"/>
<rect x="329" y="376" width="22" height="1" fill="#d66816"/>
<rect x="329" y="377" width="22" height="1" fill="#d15e0d"/>
<rect x="329" y="402" width="22" height="2" fill="#ca5203"/>
<rect x="329" y="419" width="22" height="1" fill="#cc5404"/>
<rect x="351" y="209" width="22" height="1" fill="#d15e0d"/>
<rect x="351" y="210" width="22" height="1" fill="#cc5404"/>
<rect x="351" y="211" width="22" height="1" fill="#d86d1a"/>
<rect x="351" y="212" width="22" height="1" fill="#de7724"/>
<rect x="351" y="216" width="22" height="1" fill="#d86d1a"/>
<rect x="351" y="217" width="22" height="1" fill="#de7724"/>
<rect x="351" y="218" width="22" height="1" fill="#e2802a"/>
<rect x="351" y="219" width="22" height="1" fill="#db721f"/>
<rect x="351" y="220" width="22" height="1" fill="#d66816"/>
<rect x="351" y="221" width="22" height="1" fill="#d15e0d"/>
<rect x="351" y="222" width="22" height="1" fill="#ee9d3e"/>
<rect x="351" y="226" width="22" height="1" fill="#d15e0d"/>
<rect x="351" y="227" width="22" height="1" fill="#ce5908"/>
<rect x="351" y="228" width="22" height="1" fill="#d15e0d"/>
<rect x="351" y="229" width="22" height="1" fill="#d86d1a"/>
<rect x="351" y="230" width="22" height="1" fill="#d66816"/>
<rect x="351" y="231" width="22" height="1" fill="#d15e0d"/>
<rect x="351" y="232" width="22" height="1" fill="#de7724"/>
<rect x="351" y="233" width="22" height="1" fill="#f8b750"/>
<rect x="351" y="235" width="22" height="1" fill="#f3a945"/>
<rect x="351" y="236" width="22" height="1" fill="#de7724"/>
<rect x="351" y="237" width="22" height="1" fill="#d66816"/>
<rect x="351" y="238" width="22" height="1" fill="#d15e0d"/>
<rect x="351" y="239" width="22" height="1" fill="#e2802a"/>
<rect x="351" y="240" width="22" height="1" fill="#db721f"/>
<rect x="351" y="241" width="22" height="1" fill="#ce5908"/>
<rect x="351" y="242" width="22" height="1" fill="#d86d1a"/>
<rect x="351" y="243" width="22" height="1" fill="#e68b32"/>
<rect x="351" y="244" width="22" height="1" fill="#ee9d3e"/>
<rect x="351" y="245" width="22" height="1" fill="#ee9d3e"/>
<rect x="351" y="246" width="22" height="1" fill="#e68b32"/>
<rect x="351" y="247" width="22" height="1" fill="#e68b32"/>
<rect x="351" y="248" width="22" height="1" fill="#d15e0d"/>
<rect x="351" y="249" width="22" height="1" fill="#cc5404"/>
<rect x="351" y="250" width="22" height="1" fill="#d66816"/>
<rect x="351" y="265" width="22" height="2" fill="#c95003"/>
<rect x="351" y="268.5" width="22" height="1.2" fill="#ca5203"/>
<rect x="351" y="271" width="22" height="3" fill="#ca5203"/>
<rect x="351" y="275" width="22" height="2" fill="#c95003"/>
<rect x="351" y="278" width="22" height="1" fill="#ca5203"/>
<rect x="351" y="405" width="22" height="1" fill="#d15e0d"/>
<rect x="351" y="406" width="22" height="1" fill="#d66816"/>
<rect x="351" y="407" width="22" height="1" fill="#d15e0d"/>
<rect x="351" y="408" width="22" height="1" fill="#d66816"/>
<rect x="351" y="409" width="22" height="1" fill="#ce5908"/>
<rect x="351" y="410" width="22" height="1" fill="#d66816"/>
<rect x="351" y="411" width="22" height="1" fill="#d86d1a"/>
<rect x="351" y="412" width="22" height="1" fill="#ee9d3e"/>
<rect x="351" y="413" width="22" height="1" fill="#e68b32"/>
<rect x="351" y="414" width="22" height="1" fill="#d15e0d"/>
<rect x="373" y="213" width="22" height="1" fill="#d05d0c"/>
</g>
<g stroke="#000" stroke-opacity="0.3" stroke-width="0.9" stroke-dasharray="0.9 3.5">
<line x1="48.9" y1="404.5" x2="395.5" y2="404.5"/>
<line x1="48.9" y1="377.5" x2="395.5" y2="377.5"/>
<line x1="48.9" y1="347.5" x2="395.5" y2="347.5"/>
<line x1="48.9" y1="318.5" x2="395.5" y2="318.5"/>
<line x1="48.9" y1="288.5" x2="395.5" y2="288.5"/>
<line x1="48.9" y1="259.5" x2="395.5" y2="259.5"/>
<line x1="48.9" y1="230.5" x2="395.5" y2="230.5"/>
<line x1="48.9" y1="200.5" x2="395.5" y2="200.5"/>
<line x1="48.9" y1="171.5" x2="395.5" y2="171.5"/>
<line x1="48.9" y1="141.5" x2="395.5" y2="141.5"/>
<line x1="48.9" y1="112.5" x2="395.5" y2="112.5"/>
</g>
<rect x="44.5" y="83.5" width="351.0" height="351.0" fill="none" stroke="#000" stroke-width="1.1"/>
<g stroke="#000" stroke-width="1.1">
<line x1="38.5" y1="434.5" x2="44.5" y2="434.5"/>
<line x1="38.5" y1="404.5" x2="44.5" y2="404.5"/>
<line x1="38.5" y1="377.5" x2="44.5" y2="377.5"/>
<line x1="38.5" y1="347.5" x2="44.5" y2="347.5"/>
<line x1="38.5" y1="318.5" x2="44.5" y2="318.5"/>
<line x1="38.5" y1="288.5" x2="44.5" y2="288.5"/>
<line x1="38.5" y1="259.5" x2="44.5" y2="259.5"/>
<line x1="38.5" y1="230.5" x2="44.5" y2="230.5"/>
<line x1="38.5" y1="200.5" x2="44.5" y2="200.5"/>
<line x1="38.5" y1="171.5" x2="44.5" y2="171.5"/>
<line x1="38.5" y1="141.5" x2="44.5" y2="141.5"/>
<line x1="38.5" y1="112.5" x2="44.5" y2="112.5"/>
<line x1="55.47" y1="434.5" x2="55.47" y2="439.5"/>
<line x1="77.41" y1="434.5" x2="77.41" y2="439.5"/>
<line x1="99.34" y1="434.5" x2="99.34" y2="439.5"/>
<line x1="121.28" y1="434.5" x2="121.28" y2="439.5"/>
<line x1="143.22" y1="434.5" x2="143.22" y2="439.5"/>
<line x1="165.16" y1="434.5" x2="165.16" y2="439.5"/>
<line x1="187.09" y1="434.5" x2="187.09" y2="439.5"/>
<line x1="209.03" y1="434.5" x2="209.03" y2="439.5"/>
<line x1="230.97" y1="434.5" x2="230.97" y2="439.5"/>
<line x1="252.91" y1="434.5" x2="252.91" y2="439.5"/>
<line x1="274.84" y1="434.5" x2="274.84" y2="439.5"/>
<line x1="296.78" y1="434.5" x2="296.78" y2="439.5"/>
<line x1="318.72" y1="434.5" x2="318.72" y2="439.5"/>
<line x1="340.66" y1="434.5" x2="340.66" y2="439.5"/>
<line x1="362.59" y1="434.5" x2="362.59" y2="439.5"/>
<line x1="384.53" y1="434.5" x2="384.53" y2="439.5"/>
</g>
<g fill="#000" stroke="#000" stroke-width="0.12">
<text x="13.27" y="439.10" font-size="10.6" textLength="18.12" lengthAdjust="spacingAndGlyphs">Oct</text>
<text x="11.03" y="409.10" font-size="10.6" textLength="20.31" lengthAdjust="spacingAndGlyphs">Nov</text>
<text x="11.56" y="382.10" font-size="10.6" textLength="20.04" lengthAdjust="spacingAndGlyphs">Dec</text>
<text x="15.15" y="352.20" font-size="10.6" textLength="16.83" lengthAdjust="spacingAndGlyphs">Jan</text>
<text x="12.66" y="323.10" font-size="10.6" textLength="19.10" lengthAdjust="spacingAndGlyphs">Feb</text>
<text x="11.38" y="293.10" font-size="10.6" textLength="20.11" lengthAdjust="spacingAndGlyphs">Mar</text>
<text x="13.02" y="264.10" font-size="10.6" textLength="18.48" lengthAdjust="spacingAndGlyphs">Apr</text>
<text x="9.81" y="234.30" font-size="10.6" textLength="21.51" lengthAdjust="spacingAndGlyphs">May</text>
<text x="14.92" y="204.30" font-size="10.6" textLength="17.06" lengthAdjust="spacingAndGlyphs">Jun</text>
<text x="18.79" y="175.30" font-size="10.6" textLength="13.20" lengthAdjust="spacingAndGlyphs">Jul</text>
<text x="11.63" y="145.30" font-size="10.6" textLength="20.41" lengthAdjust="spacingAndGlyphs">Aug</text>
<text x="12.10" y="116.30" font-size="10.6" textLength="19.67" lengthAdjust="spacingAndGlyphs">Sep</text>
<text transform="translate(59.27,474.20) rotate(-90)" font-size="10.6" textLength="26.56" lengthAdjust="spacingAndGlyphs">2010</text>
<text transform="translate(81.21,474.20) rotate(-90)" font-size="10.6" textLength="26.40" lengthAdjust="spacingAndGlyphs">2011</text>
<text transform="translate(103.14,474.20) rotate(-90)" font-size="10.6" textLength="26.33" lengthAdjust="spacingAndGlyphs">2012</text>
<text transform="translate(125.08,474.20) rotate(-90)" font-size="10.6" textLength="26.47" lengthAdjust="spacingAndGlyphs">2013</text>
<text transform="translate(147.02,474.20) rotate(-90)" font-size="10.6" textLength="26.55" lengthAdjust="spacingAndGlyphs">2014</text>
<text transform="translate(168.96,474.20) rotate(-90)" font-size="10.6" textLength="26.37" lengthAdjust="spacingAndGlyphs">2015</text>
<text transform="translate(190.89,474.20) rotate(-90)" font-size="10.6" textLength="26.66" lengthAdjust="spacingAndGlyphs">2016</text>
<text transform="translate(212.83,474.20) rotate(-90)" font-size="10.6" textLength="26.49" lengthAdjust="spacingAndGlyphs">2017</text>
<text transform="translate(234.77,474.20) rotate(-90)" font-size="10.6" textLength="26.60" lengthAdjust="spacingAndGlyphs">2018</text>
<text transform="translate(256.71,474.20) rotate(-90)" font-size="10.6" textLength="26.62" lengthAdjust="spacingAndGlyphs">2019</text>
<text transform="translate(278.64,474.20) rotate(-90)" font-size="10.6" textLength="26.56" lengthAdjust="spacingAndGlyphs">2020</text>
<text transform="translate(300.58,474.20) rotate(-90)" font-size="10.6" textLength="26.40" lengthAdjust="spacingAndGlyphs">2021</text>
<text transform="translate(322.52,474.20) rotate(-90)" font-size="10.6" textLength="26.33" lengthAdjust="spacingAndGlyphs">2022</text>
<text transform="translate(344.46,474.20) rotate(-90)" font-size="10.6" textLength="26.47" lengthAdjust="spacingAndGlyphs">2023</text>
<text transform="translate(366.39,474.20) rotate(-90)" font-size="10.6" textLength="26.55" lengthAdjust="spacingAndGlyphs">2024</text>
<text transform="translate(388.33,474.20) rotate(-90)" font-size="10.6" textLength="26.37" lengthAdjust="spacingAndGlyphs">2025</text>
</g>
<rect x="403.5" y="83.5" width="18" height="351.0" fill="url(#cb)"/>
<rect x="403.5" y="83.5" width="18" height="351.0" fill="none" stroke="#000" stroke-width="1.1"/>
<g stroke="#000" stroke-width="1.1">
<line x1="421.5" y1="434.50" x2="427" y2="434.50"/>
<line x1="421.5" y1="399.40" x2="427" y2="399.40"/>
<line x1="421.5" y1="364.30" x2="427" y2="364.30"/>
<line x1="421.5" y1="329.20" x2="427" y2="329.20"/>
<line x1="421.5" y1="294.10" x2="427" y2="294.10"/>
<line x1="421.5" y1="259.00" x2="427" y2="259.00"/>
<line x1="421.5" y1="223.90" x2="427" y2="223.90"/>
<line x1="421.5" y1="188.80" x2="427" y2="188.80"/>
<line x1="421.5" y1="153.70" x2="427" y2="153.70"/>
<line x1="421.5" y1="118.60" x2="427" y2="118.60"/>
<line x1="421.5" y1="83.50" x2="427" y2="83.50"/>
</g>
<g fill="#000" stroke="#000" stroke-width="0.12">
<text x="437.67" y="438.90" font-size="10.6" textLength="6.10" lengthAdjust="spacingAndGlyphs">0</text>
<text x="437.66" y="403.60" font-size="10.6" textLength="15.83" lengthAdjust="spacingAndGlyphs">0.2</text>
<text x="437.65" y="368.10" font-size="10.6" textLength="16.06" lengthAdjust="spacingAndGlyphs">0.4</text>
<text x="437.65" y="333.00" font-size="10.6" textLength="16.16" lengthAdjust="spacingAndGlyphs">0.6</text>
<text x="437.65" y="297.90" font-size="10.6" textLength="16.10" lengthAdjust="spacingAndGlyphs">0.8</text>
<text x="437.60" y="262.80" font-size="10.6" textLength="5.82" lengthAdjust="spacingAndGlyphs">1</text>
<text x="437.53" y="227.70" font-size="10.6" textLength="15.79" lengthAdjust="spacingAndGlyphs">1.2</text>
<text x="437.52" y="192.60" font-size="10.6" textLength="16.03" lengthAdjust="spacingAndGlyphs">1.4</text>
<text x="437.52" y="157.50" font-size="10.6" textLength="16.14" lengthAdjust="spacingAndGlyphs">1.6</text>
<text x="437.52" y="122.40" font-size="10.6" textLength="16.07" lengthAdjust="spacingAndGlyphs">1.8</text>
<text x="437.57" y="87.30" font-size="10.6" textLength="5.88" lengthAdjust="spacingAndGlyphs">2</text>
<text x="449.31" y="87.30" font-size="10.6" textLength="29.32" lengthAdjust="spacingAndGlyphs">1.998</text>
</g>
<polyline points="438.3,80.6 445,83.6 438.3,86.6" fill="none" stroke="#000" stroke-width="0.95"/>
<text transform="translate(497.3,291.17) rotate(-90)" font-size="10.6" font-weight="bold" textLength="64.46" lengthAdjust="spacingAndGlyphs">Scale (ft/s)</text>
<text x="5.92" y="488.8" font-size="10.8" fill="#45525d" stroke="#45525d" stroke-width="0.1" textLength="206.24" lengthAdjust="spacingAndGlyphs">www.cbr.washington.edu/sacramento/</text>
<text x="350.15" y="488.8" font-size="10.8" fill="#45525d" stroke="#45525d" stroke-width="0.1" textLength="144.63" lengthAdjust="spacingAndGlyphs">23 Nov 2025 15:46:12 PST</text>
</g>
</svg></body></html>
